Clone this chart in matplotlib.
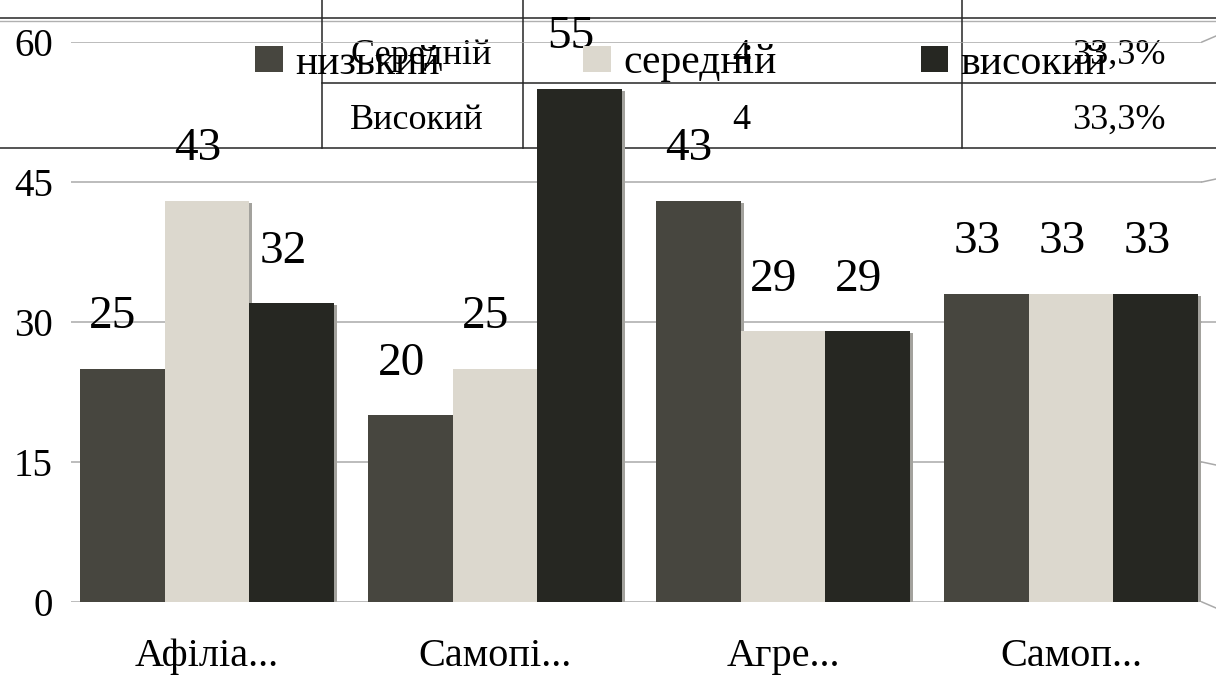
import numpy as np
import matplotlib
matplotlib.use("Agg")
import matplotlib.pyplot as plt
import matplotlib.transforms as mtransforms
from matplotlib.patches import Patch

plt.rcParams["font.family"] = ["Liberation Serif", "DejaVu Serif"]

categories = ["Афіліа...", "Самопі...", "Агре...", "Самоп..."]
series_names = ["низький", "середній", "високий"]
low = [25, 20, 43, 33]
mid = [43, 25, 29, 33]
high = [32, 55, 29, 33]
yticks = [0, 15, 30, 45, 60]

# leftover rows of the table above the chart
table_rows = [["Середній", "4", "33,3%"],
              ["Високий", "4", "33,3%"]]

colors = ["#47463f", "#dcd8ce", "#262722"]
W, H = 1216, 678

fig = plt.figure(figsize=(W / 100, H / 100), dpi=100)

# page layer in pixel coordinates for the table
page = fig.add_axes([0, 0, 1, 1], zorder=0)
page.set_xlim(0, W)
page.set_ylim(H, 0)
page.axis("off")
line_kw = dict(color="#262626", lw=1.1)
page.plot([0, W], [18, 18], **line_kw)
page.plot([0, W], [21, 21], color="#b0b0b0", lw=1.0)
page.plot([322, W], [83, 83], **line_kw)
page.plot([0, W], [148, 148], **line_kw)
for xv in [322, 523, 962]:
    page.plot([xv, xv], [0, 148], **line_kw)
for i, (name, n, pct) in enumerate(table_rows):
    base = 64 + 65 * i
    page.text(350, base, name, fontsize=26, va="baseline", ha="left")
    page.text(741, base, n, fontsize=26, va="baseline", ha="center")
    page.text(1166, base, pct, fontsize=26, va="baseline", ha="right")

# chart
ax = fig.add_axes([71 / W, (H - 602) / H, 1131 / W, 560 / H], zorder=1)
ax.patch.set_alpha(0)
ax.set_xlim(-0.4722, 3.4549)
ax.set_ylim(0, 60)

x = np.arange(len(categories))
bw = 0.295
shadow = mtransforms.offset_copy(ax.transData, fig=fig, x=3, y=-2, units="dots")
for k, (vals, c) in enumerate(zip([low, mid, high], colors)):
    xs = x + (k - 1) * bw
    ax.bar(xs, vals, bw, color="#a3a29d", transform=shadow, zorder=2)
    ax.bar(xs, vals, bw, color=c, zorder=3, label=series_names[k])
    for xi, v in zip(xs, vals):
        ax.annotate(str(v), (xi, v), xytext=(-9, 52), textcoords="offset pixels",
                    ha="center", va="center", fontsize=34, zorder=5)

ax.set_yticks(yticks)
ax.set_yticklabels([str(v) for v in yticks])
ax.set_xticks(x)
ax.set_xticklabels(categories)
ax.tick_params(axis="y", length=0, pad=13, labelsize=28)
ax.tick_params(axis="x", length=0, pad=26, labelsize=29)
for s in ax.spines.values():
    s.set_visible(False)
ax.yaxis.grid(True, color="#a9a9a9", lw=1.1, zorder=1)
ax.set_axisbelow(True)

# short perspective tails at the right end of each gridline
x_end = ax.get_xlim()[1]
for v in yticks:
    ax.plot([x_end, x_end + 14 / 288], [v, v + (v - 30) * 0.2 / 9.33],
            color="#a9a9a9", lw=1.1, clip_on=False, zorder=1)

handles = [Patch(facecolor=c, edgecolor="none") for c in colors]
fig.legend(handles, series_names, loc="upper left",
           bbox_to_anchor=(255 / W, 1 - 44 / H), ncol=3, frameon=False,
           fontsize=30, borderpad=0, borderaxespad=0,
           handlelength=0.67, handleheight=0.58, handletextpad=0.29,
           columnspacing=3.45)

fig.savefig("out.png", dpi=100)
